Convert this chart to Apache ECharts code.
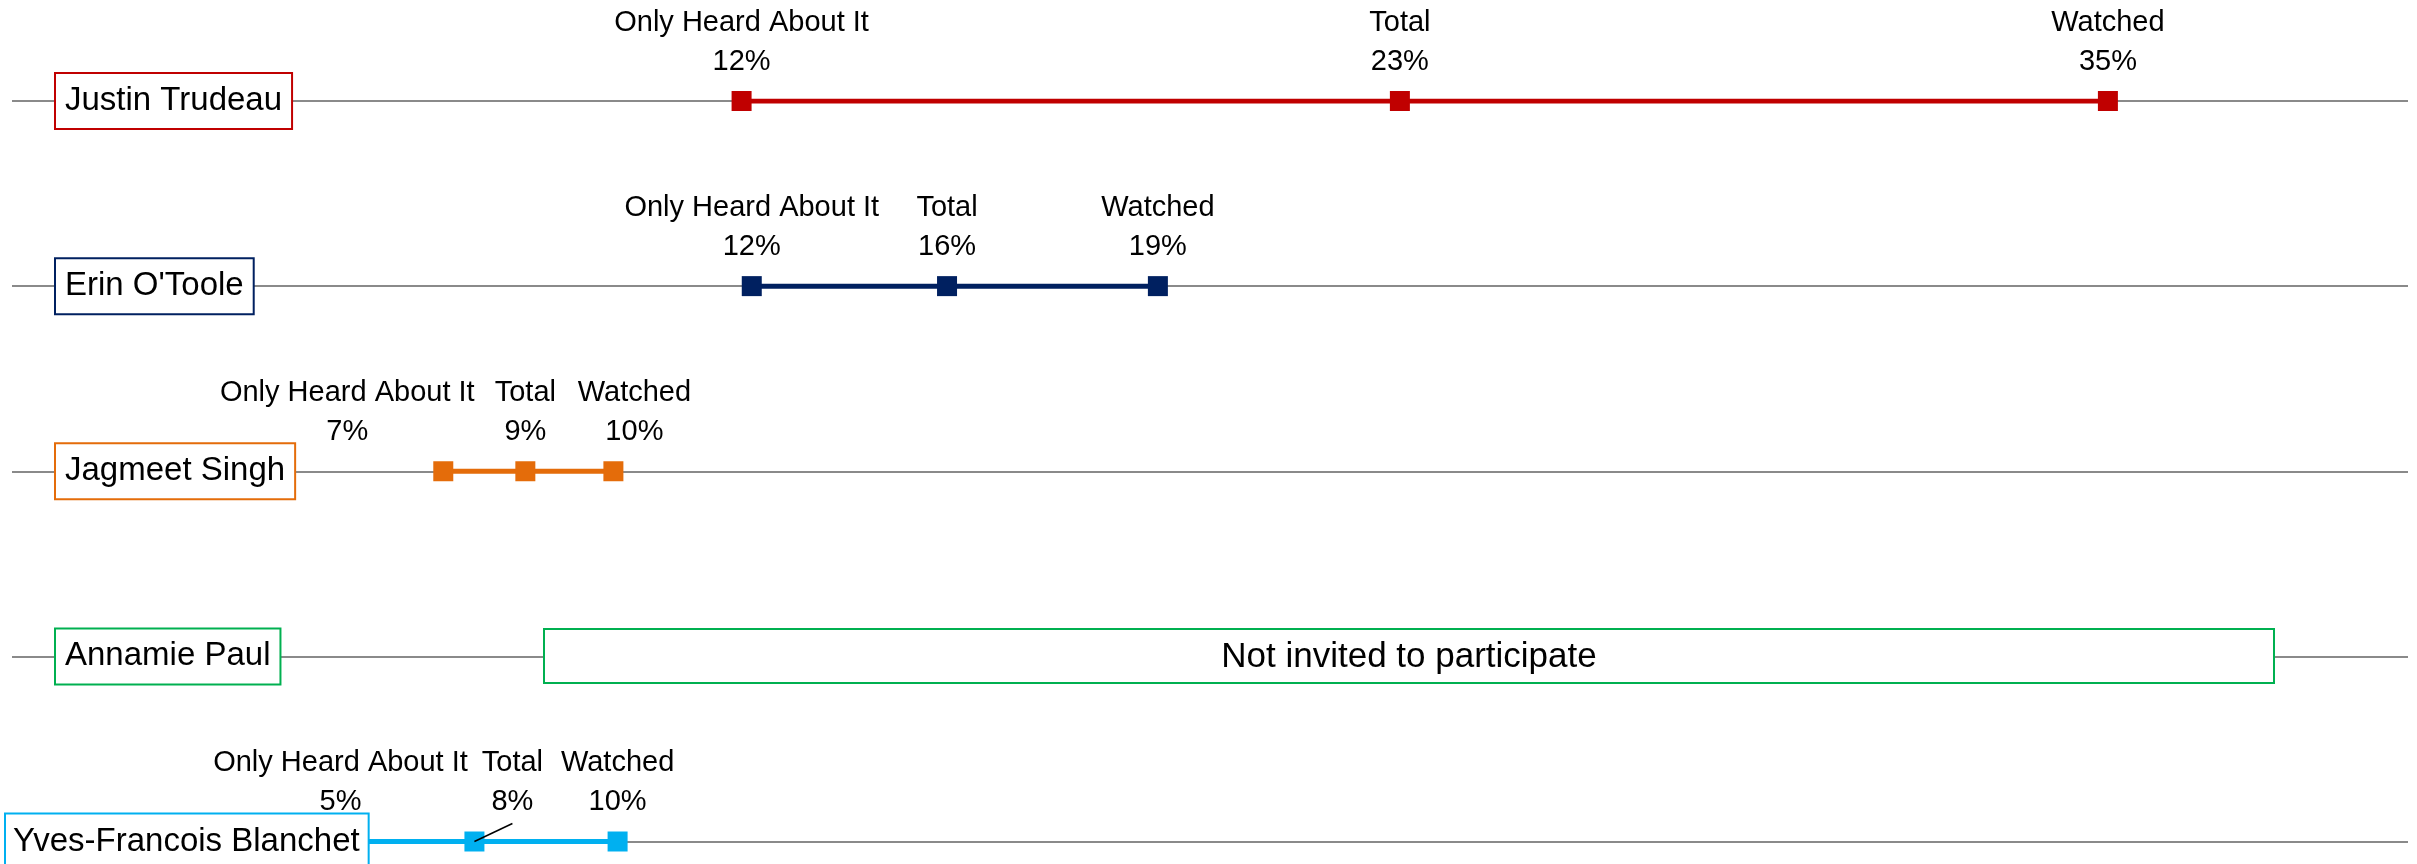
<!DOCTYPE html>
<html>
<head>
<meta charset="utf-8">
<title>Debate awareness by leader</title>
<script src="https://cdn.jsdelivr.net/npm/echarts@6/dist/echarts.min.js"></script>
<style>
  html, body { margin: 0; padding: 0; background: #fff; }
  #chart { width: 2417px; height: 864px; }
</style>
</head>
<body>
<div id="chart"></div>
<script>
// rows, top to bottom
const candidates = ['Justin Trudeau', "Erin O'Toole", 'Jagmeet Singh', 'Annamie Paul', 'Yves-Francois Blanchet']
const stages = ['Only Heard About It', 'Total', 'Watched']
// percent, null = not invited
const onlyHeard = [12.18, 12.35, 7.2, null, 5.0]
const total = [23.17, 15.61, 8.57, null, 7.72]
const watched = [34.99, 19.13, 10.04, null, 10.11]
const notInvitedText = 'Not invited to participate'

const colors = ['#C00000', '#002060', '#E46C0A', '#00B050', '#00B0F0']
const FONT = '"Liberation Sans", Arial, sans-serif'

// horizontal nudges so crowded labels don't collide
const labelShift = {
    2: [-96, 0, 21],
    4: [29, 38, 0]
}

const chart = echarts.init(document.getElementById('chart'))

const series = []
candidates.forEach((name, i) => {
    if (onlyHeard[i] == null) return
    const vals = [onlyHeard[i], total[i], watched[i]]
    series.push({
        name: name,
        type: 'line',
        symbol: 'rect',
        symbolSize: 20,
        z: 3,
        lineStyle: { color: colors[i], width: 5 },
        itemStyle: { color: colors[i] },
        label: {
            show: true,
            position: 'top',
            distance: 10,
            color: '#000',
            fontFamily: FONT,
            fontSize: 29,
            lineHeight: 39,
            align: 'center',
            formatter: p => stages[p.dataIndex] + '\n' + Math.round(p.value[0]) + '%'
        },
        labelLayout: p => {
            const s = labelShift[i]
            return s ? { dx: s[p.dataIndex], moveOverlap: false, hideOverlap: false } : {}
        },
        data: vals.map(v => [v, name])
    })
})

const option = {
    animation: false,
    backgroundColor: '#fff',
    grid: { left: 12, right: 9, top: 101, bottom: 22.5 },
    xAxis: {
        type: 'value',
        min: 0,
        max: 40,
        show: false
    },
    yAxis: {
        type: 'category',
        data: candidates,
        inverse: true,
        boundaryGap: false,
        axisLine: { show: false },
        axisTick: { show: false },
        axisLabel: { show: false, interval: 0 },
        splitLine: { show: true, interval: 0, lineStyle: { color: '#8a8a8a', width: 2 } }
    },
    series: series
}

chart.setOption(option)

// name boxes + the "not invited" box, placed on the rows from the axis scale
const rowY = candidates.map(c => chart.convertToPixel({ yAxisIndex: 0 }, c))
const graphics = candidates.map((name, i) => ({
    type: 'text',
    z: 50,
    x: i === 4 ? 6 : 56,
    y: rowY[i],
    style: {
        text: name,
        font: '33px ' + FONT,
        fill: '#000',
        verticalAlign: 'middle',
        align: 'left',
        lineHeight: 38,
        padding: i === 4 ? [8, 8, 8, 7] : [8, 9, 8, 9],
        backgroundColor: '#fff',
        borderColor: colors[i],
        borderWidth: 2
    }
}))
graphics.push({
    type: 'rect',
    z: 50,
    shape: { x: 544, y: rowY[3] - 27.5, width: 1730, height: 54 },
    style: { fill: '#fff', stroke: colors[3], lineWidth: 2 }
})
graphics.push({
    type: 'text',
    z: 51,
    x: 1409,
    y: rowY[3] + 1,
    style: {
        text: notInvitedText,
        font: '35px ' + FONT,
        fill: '#000',
        align: 'center',
        verticalAlign: 'middle'
    }
})
// leader line from Blanchet's "Total" marker up to its shifted label
const p = chart.convertToPixel({ seriesIndex: 3 }, [total[4], candidates[4]])
graphics.push({
    type: 'line',
    z: 10,
    shape: { x1: p[0], y1: p[1], x2: p[0] + 38, y2: p[1] - 18 },
    style: { stroke: '#000', lineWidth: 1.5 }
})
chart.setOption({ graphic: graphics })

window.addEventListener('resize', () => {
    chart.resize()
})
</script>
</body>
</html>
